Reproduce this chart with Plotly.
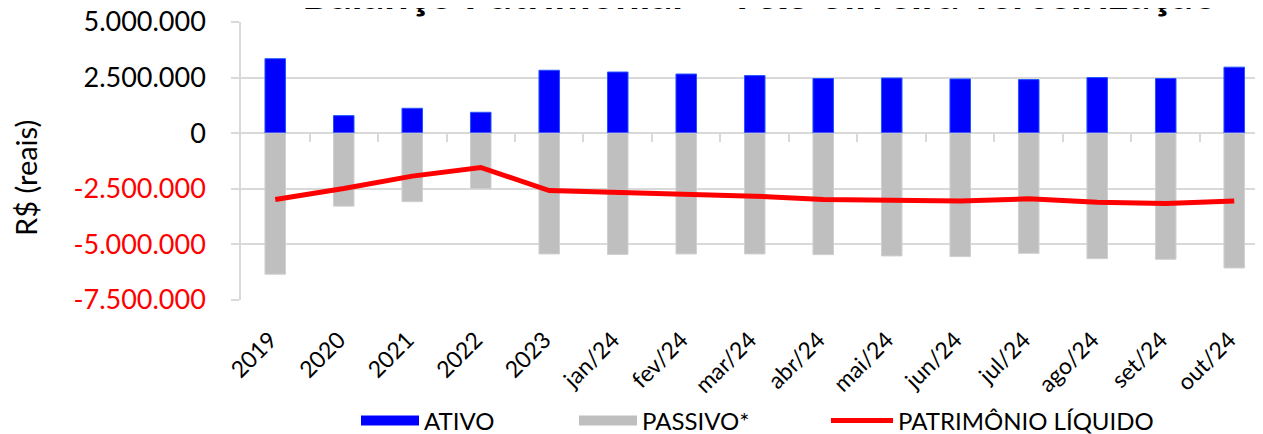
import plotly.graph_objects as go

categories = ["2019", "2020", "2021", "2022", "2023", "jan/24", "fev/24", "mar/24",
              "abr/24", "mai/24", "jun/24", "jul/24", "ago/24", "set/24", "out/24"]
ativo = [3350000, 790000, 1120000, 940000, 2830000, 2750000, 2660000, 2590000,
         2460000, 2480000, 2440000, 2410000, 2500000, 2460000, 2970000]
passivo = [-6340000, -3280000, -3080000, -2500000, -5430000, -5450000, -5430000, -5430000,
           -5460000, -5520000, -5550000, -5400000, -5640000, -5670000, -6060000]
patrimonio = [-2980000, -2490000, -1930000, -1540000, -2580000, -2660000, -2740000, -2830000,
              -2980000, -3020000, -3050000, -2950000, -3100000, -3160000, -3050000]
ytick_vals = [5000000, 2500000, 0, -2500000, -5000000, -7500000]
ytick_text = ["5.000.000", "2.500.000", "0", "-2.500.000", "-5.000.000", "-7.500.000"]
title_text = "Balanço Patrimonial – V&S Silveira Terceirização"
ytitle_text = "R$ (reais)"

FONT = "Lato"
GRID = "#D9D9D9"
BLUE = "#0000FF"
GREY = "#BFBFBF"
RED = "#FF0000"

# the page body has an 8px margin; figure sized so it ends at the window edge
W, H = 1255, 426
ML, MT, MB, MR = 233, 14, 134, 0

fig = go.Figure()
fig.add_trace(go.Bar(x=categories, y=ativo, name="ATIVO", width=0.3, showlegend=False,
                     marker=dict(color=BLUE, line=dict(color="#2255FF", width=1))))
fig.add_trace(go.Bar(x=categories, y=passivo, name="PASSIVO*", width=0.3, showlegend=False,
                     marker=dict(color=GREY, line=dict(color="#D0D0D0", width=1))))
fig.add_trace(go.Scatter(x=categories, y=patrimonio, name="PATRIMÔNIO LÍQUIDO", mode="lines",
                         line=dict(color=RED, width=5), legend="legend3"))
# legend swatches for the bar series (wide rectangles like the original)
fig.add_trace(go.Scatter(x=[None], y=[None], name="ATIVO", mode="lines",
                         line=dict(color=BLUE, width=16), legend="legend"))
fig.add_trace(go.Scatter(x=[None], y=[None], name="PASSIVO*", mode="lines",
                         line=dict(color=GREY, width=16), legend="legend2"))
# invisible trace to activate xaxis2 (category boundary ticks at y=0)
fig.add_trace(go.Scatter(x=[0], y=[0], xaxis="x2", mode="markers", marker=dict(opacity=0),
                         showlegend=False, hoverinfo="skip"))

ticktext_colored = [t if v >= 0 else f'<span style="color:{RED}">{t}</span>'
                    for v, t in zip(ytick_vals, ytick_text)]

ymin, ymax = -7500000, 5000000
n = len(categories)
leg_common = dict(orientation="h", xref="container", yref="container", xanchor="left",
                  yanchor="middle", y=1 - 413 / H, font=dict(family=FONT, size=24),
                  bgcolor="rgba(0,0,0,0)")
fig.update_layout(
    width=W, height=H,
    margin=dict(l=ML, r=MR, t=MT, b=MB, pad=0),
    paper_bgcolor="white", plot_bgcolor="white",
    barmode="relative",
    font=dict(family=FONT, size=22, color="black"),
    showlegend=True,
    legend=dict(x=348 / W, itemwidth=58, **leg_common),
    legend2=dict(x=566 / W, itemwidth=58, **leg_common),
    legend3=dict(x=818 / W, itemwidth=62, **leg_common),
    xaxis=dict(type="category", range=[-0.5, n - 0.58], tickangle=-45, showgrid=False,
               showline=False, ticks="", automargin=False,
               ticklabelshift=-5, ticklabelstandoff=21,
               tickfont=dict(family=FONT, size=23)),
    xaxis2=dict(overlaying="x", anchor="free", position=(0 - ymin) / (ymax - ymin),
                range=[-0.5, n - 0.58], tickmode="array",
                tickvals=[i + 0.5 for i in range(n - 1)], ticks="outside", ticklen=8,
                tickcolor=GRID, tickwidth=1.5, showticklabels=False, showgrid=False,
                showline=False, zeroline=False, automargin=False),
    yaxis=dict(range=[ymin, ymax], tickmode="array", tickvals=ytick_vals,
               ticktext=ticktext_colored, showgrid=True, gridcolor=GRID, gridwidth=1.5,
               zeroline=False, showline=True, linecolor=GRID, linewidth=1.5,
               ticks="outside", ticklen=8, tickcolor=GRID, tickwidth=1.5, automargin=False,
               ticklabeloverflow="allow",
               ticklabelstandoff=20, tickfont=dict(family=FONT, size=27)),
)
plot_w = W - ML - MR
fig.add_annotation(text=ytitle_text, xref="paper", yref="paper",
                   x=(17 - ML) / plot_w, y=0.5, yshift=-17, textangle=-90,
                   xanchor="center", yanchor="middle", showarrow=False,
                   font=dict(family=FONT, size=29, color="black"))
fig.add_annotation(text="<b>" + title_text + "</b>", xref="paper", yref="paper",
                   x=(752 - ML) / plot_w, y=1, yshift=2, yanchor="bottom", showarrow=False,
                   font=dict(family=FONT, size=43, color="black"))
fig.write_html("out.html")
